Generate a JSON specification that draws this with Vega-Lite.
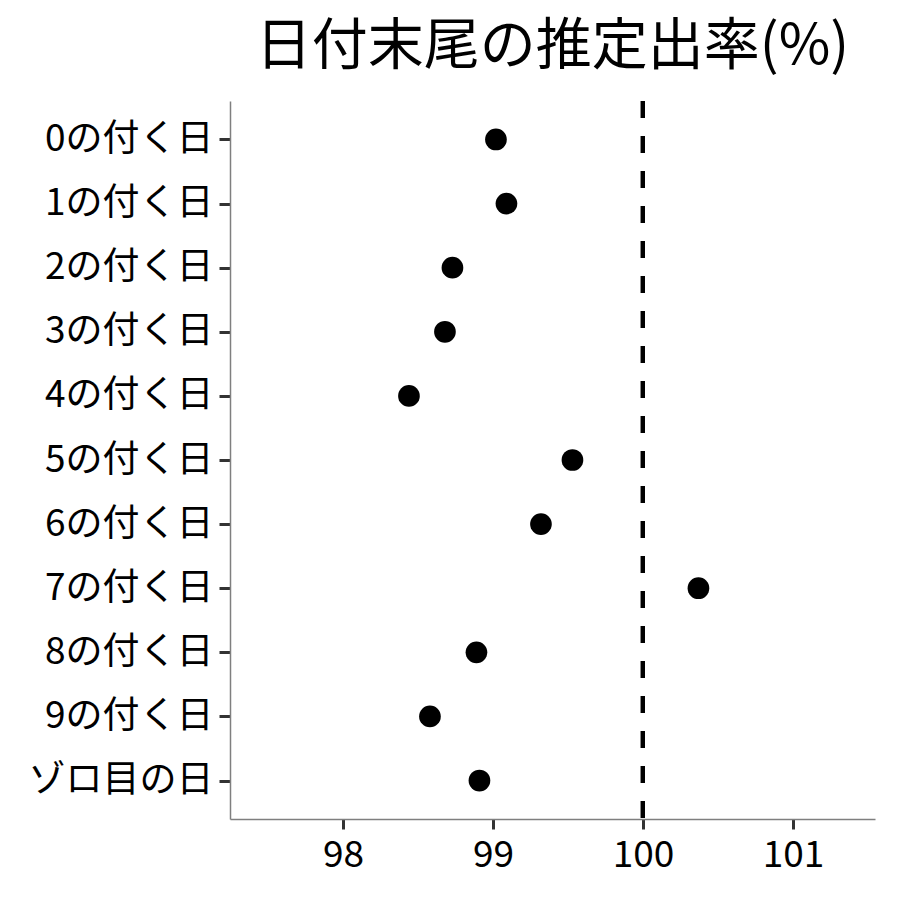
{
  "$schema": "https://vega.github.io/schema/vega-lite/v6.json",
  "autosize": {"type": "none"},
  "width": 645,
  "height": 718,
  "padding": {"left": 230, "top": 101, "right": 25, "bottom": 81},
  "background": "white",
  "title": {
    "text": "日付末尾の推定出率(%)",
    "font": "Noto Sans CJK JP",
    "fontSize": 56,
    "fontWeight": "normal",
    "color": "black",
    "anchor": "middle",
    "frame": "group",
    "offset": 23
  },
  "config": {
    "view": {"stroke": null},
    "font": "Noto Sans CJK JP"
  },
  "data": {
    "values": [
      {"label": "0の付く日", "rate": 99.02},
      {"label": "1の付く日", "rate": 99.09},
      {"label": "2の付く日", "rate": 98.73},
      {"label": "3の付く日", "rate": 98.68},
      {"label": "4の付く日", "rate": 98.44},
      {"label": "5の付く日", "rate": 99.53},
      {"label": "6の付く日", "rate": 99.32},
      {"label": "7の付く日", "rate": 100.37},
      {"label": "8の付く日", "rate": 98.89},
      {"label": "9の付く日", "rate": 98.58},
      {"label": "ゾロ目の日", "rate": 98.91}
    ]
  },
  "layer": [
    {
      "mark": {"type": "rule", "color": "black", "strokeWidth": 4, "strokeDash": [17, 18]},
      "encoding": {"x": {"datum": 100}}
    },
    {
      "mark": {"type": "circle", "color": "black", "opacity": 1, "size": 470},
      "encoding": {
        "x": {
          "field": "rate",
          "type": "quantitative",
          "scale": {"domain": [97.247, 101.547], "nice": false, "zero": false},
          "axis": {
            "title": null,
            "values": [98, 99, 100, 101],
            "format": "d",
            "grid": false,
            "domainColor": "#7f7f7f",
            "domainWidth": 1.5,
            "tickColor": "#333333",
            "tickWidth": 3,
            "tickSize": 10,
            "labelFont": "Noto Sans CJK JP",
            "labelFontSize": 37,
            "labelColor": "black",
            "labelPadding": 8,
            "labelFlush": false
          }
        },
        "y": {
          "field": "label",
          "type": "nominal",
          "sort": null,
          "scale": {"type": "point", "padding": 0.6},
          "axis": {
            "title": null,
            "grid": false,
            "domainColor": "#7f7f7f",
            "domainWidth": 1.5,
            "tickColor": "#333333",
            "tickWidth": 3,
            "tickSize": 11,
            "labelFont": "Noto Sans CJK JP",
            "labelFontSize": 37,
            "labelColor": "black",
            "labelPadding": 6,
            "labelLimit": 400
          }
        }
      }
    }
  ]
}
